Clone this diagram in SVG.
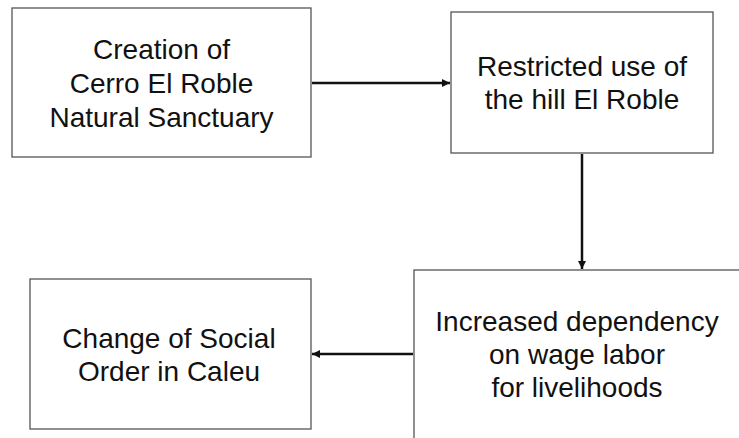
<svg xmlns="http://www.w3.org/2000/svg" width="739" height="438" viewBox="0 0 739 438">
  <style>
    .box { fill: #ffffff; stroke: #555555; stroke-width: 1.3; }
    .label { font-family: "Liberation Sans", Arial, sans-serif; font-size: 28px; fill: #111111; text-anchor: middle; }
    .link { stroke: #111111; stroke-width: 2.5; fill: none; marker-end: url(#arrow); }
  </style>
  <defs>
    <marker id="arrow" viewBox="0 0 10 10" refX="10" refY="5" markerWidth="3.4" markerHeight="3.2" orient="auto" markerUnits="strokeWidth">
      <path d="M0,0 L10,5 L0,10 Z" fill="#111111"/>
    </marker>
  </defs>
  <rect width="739" height="438" fill="#ffffff"/>

  <g id="creation">
    <rect class="box" x="12" y="8" width="299" height="149"/>
    <text class="label" x="161.5" y="59">Creation of</text>
    <text class="label" x="161.5" y="93">Cerro El Roble</text>
    <text class="label" x="161.5" y="127">Natural Sanctuary</text>
  </g>

  <g id="restricted">
    <rect class="box" x="451" y="12" width="262" height="141"/>
    <text class="label" x="582" y="76">Restricted use of</text>
    <text class="label" x="582" y="109">the hill El Roble</text>
  </g>

  <g id="dependency">
    <rect class="box" x="414" y="270" width="330" height="180"/>
    <text class="label" x="577" y="331">Increased dependency</text>
    <text class="label" x="577" y="364">on wage labor</text>
    <text class="label" x="577" y="397">for livelihoods</text>
  </g>

  <g id="social-order">
    <rect class="box" x="30" y="279" width="281" height="150"/>
    <text class="label" x="169" y="348">Change of Social</text>
    <text class="label" x="169" y="381">Order in Caleu</text>
  </g>

  <g id="connectors">
    <line class="link" x1="312" y1="83" x2="450" y2="83"/>
    <line class="link" x1="582" y1="154" x2="582" y2="269"/>
    <line class="link" x1="413" y1="354" x2="312" y2="354"/>
  </g>
</svg>
